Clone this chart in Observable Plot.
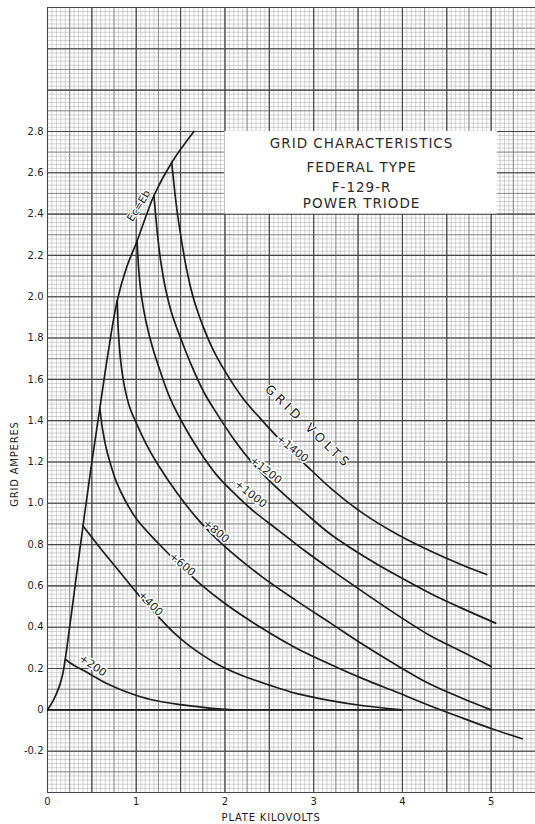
<!DOCTYPE html>
<html>
<head>
<meta charset="utf-8">
<script src="https://cdn.jsdelivr.net/npm/d3@7"></script>
<script src="https://cdn.jsdelivr.net/npm/@observablehq/plot@0.6"></script>
<style>
  html, body { margin: 0; padding: 0; background: #fff; }
  #chart svg { display: block; }
</style>
</head>
<body>
<div id="chart"></div>
<script>
// ---- Data (plate kilovolts, grid amperes) ----
const ecEb  = [[0,0],[0.07,0.05],[0.13,0.11],[0.17,0.17],[0.2,0.245],[0.24,0.37],[0.32,0.63],[0.40,0.89],[0.49,1.17],[0.59,1.46],[0.68,1.72],[0.785,1.98],[0.89,2.14],[1.01,2.27],[1.20,2.49],[1.40,2.65],[1.65,2.80]];
const g1400 = [[1.40,2.65],[1.45,2.45],[1.50,2.30],[1.56,2.15],[1.64,2.00],[1.75,1.86],[1.87,1.74],[2.0,1.64],[2.2,1.51],[2.4,1.41],[2.66,1.29],[2.9,1.19],[3.2,1.07],[3.56,0.95],[3.94,0.85],[4.31,0.77],[4.68,0.70],[4.95,0.655]];
const g1200 = [[1.20,2.49],[1.24,2.30],[1.28,2.16],[1.33,2.04],[1.40,1.92],[1.50,1.80],[1.62,1.67],[1.76,1.54],[1.90,1.44],[2.1,1.31],[2.3,1.20],[2.5,1.11],[2.7,1.03],[2.9,0.955],[3.19,0.85],[3.56,0.745],[3.94,0.65],[4.31,0.565],[4.68,0.49],[5.05,0.42]];
const g1000 = [[1.01,2.27],[1.03,2.12],[1.06,2.00],[1.11,1.88],[1.18,1.76],[1.27,1.64],[1.38,1.51],[1.52,1.39],[1.70,1.26],[1.90,1.14],[2.1,1.05],[2.3,0.97],[2.6,0.87],[2.9,0.77],[3.19,0.68],[3.56,0.57],[3.94,0.46],[4.31,0.36],[4.68,0.28],[5.0,0.21]];
const g800  = [[0.785,1.98],[0.80,1.82],[0.83,1.67],[0.87,1.56],[0.93,1.46],[1.01,1.38],[1.12,1.28],[1.24,1.19],[1.46,1.05],[1.72,0.91],[2.0,0.79],[2.4,0.65],[2.8,0.53],[3.19,0.42],[3.56,0.315],[3.94,0.215],[4.31,0.125],[4.68,0.055],[5.0,0.0]];
const g600  = [[0.59,1.46],[0.62,1.36],[0.66,1.27],[0.71,1.19],[0.78,1.10],[0.88,1.01],[1.01,0.92],[1.24,0.81],[1.46,0.715],[1.72,0.61],[2.0,0.515],[2.4,0.40],[2.8,0.30],[3.19,0.22],[3.56,0.15],[3.94,0.085],[4.31,0.02],[4.68,-0.04],[5.0,-0.09],[5.35,-0.14]];
const g400  = [[0.40,0.89],[0.5,0.835],[0.60,0.78],[0.82,0.665],[1.01,0.565],[1.24,0.455],[1.42,0.375],[1.6,0.31],[1.9,0.225],[2.2,0.165],[2.5,0.12],[2.8,0.08],[3.19,0.045],[3.56,0.02],[4.0,0.0]];
const g200  = [[0.2,0.245],[0.3,0.215],[0.41,0.19],[0.55,0.155],[0.68,0.125],[0.9,0.085],[1.16,0.05],[1.5,0.025],[1.8,0.01],[2.1,0.0]];
const zeroLine = [{x1: 0, x2: 4.0, y: 0}];

const curveNames = ["Ec=Eb", "+1400", "+1200", "+1000", "+800", "+600", "+400", "+200"];
const curveData = [ecEb, g1400, g1200, g1000, g800, g600, g400, g200];

// Curve labels: text, position (kV, A), rotation
const labelText = ["+1400", "+1200", "+1000", "+800", "+600", "+400", "+200"];
const labelX    = [2.76, 2.46, 2.29, 1.90, 1.52, 1.16, 0.51];
const labelY    = [1.265, 1.16, 1.045, 0.865, 0.705, 0.515, 0.215];
const labelRot  = [38, 38, 38, 40, 40, 46, 34];

const ecLabel = [{text: "Ec=Eb", x: 1.03, y: 2.44, rot: -58}];
const gridVolts = [{text: "GRID VOLTS", x: 2.94, y: 1.37, rot: 44}];

const titleLines = ["GRID CHARACTERISTICS", "FEDERAL TYPE", "F-129-R", "POWER TRIODE"];
const titleLineY = [2.74, 2.625, 2.527, 2.448];
const titleX = 3.54;
const titleBox = [{x1: 2.0, x2: 5.07, y1: 2.4, y2: 2.8}];

const xTicks = [0, 1, 2, 3, 4, 5];
const yTicks = [-0.2, 0, 0.2, 0.4, 0.6, 0.8, 1.0, 1.2, 1.4, 1.6, 1.8, 2.0, 2.2, 2.4, 2.6, 2.8];
const xTitle = [{text: "PLATE KILOVOLTS", x: 2.52}];
const yTitle = [{text: "GRID AMPERES", y: 1.19}];

// ---- Build tables ----
const curveRows = curveData.flatMap((pts, i) => pts.map(([x, y]) => ({series: curveNames[i], x, y})));
const labelRows = labelText.map((t, i) => ({text: t, x: labelX[i], y: labelY[i], rot: labelRot[i]}));
const titleRows = titleLines.map((t, i) => ({text: t, x: titleX, y: titleLineY[i]}));

// Graph-paper rulings
const xMin = 0, xMax = 5.5, yMin = -0.4, yMax = 3.4;
const fineX = d3.range(0, 110 + 1).map(i => i * 0.05);
const fineY = d3.range(0, 190 + 1).map(i => yMin + i * 0.02);
const medX = d3.range(0, 22 + 1).map(i => i * 0.25);
const medY = d3.range(0, 38 + 1).map(i => yMin + i * 0.1);
const majX = d3.range(0, 11 + 1).map(i => i * 0.5);
const majY = d3.range(0, 19 + 1).map(i => yMin + i * 0.2);

const font = "DejaVu Sans, Liberation Sans, sans-serif";
const ink = "#1d1d1d";

const chart = Plot.plot({
  width: 535,
  height: 824,
  marginLeft: 47,
  marginRight: 0,
  marginTop: 7,
  marginBottom: 32,
  style: {fontFamily: font, background: "#fff", color: ink},
  x: {domain: [xMin, xMax]},
  y: {domain: [yMin, yMax]},
  marks: [
    Plot.ruleX(fineX, {stroke: "#b3b3b3", strokeWidth: 0.6}),
    Plot.ruleY(fineY, {stroke: "#b3b3b3", strokeWidth: 0.6}),
    Plot.ruleX(medX, {stroke: "#7c7c7c", strokeWidth: 0.8}),
    Plot.ruleY(medY, {stroke: "#7c7c7c", strokeWidth: 0.8}),
    Plot.ruleX(majX, {stroke: "#464646", strokeWidth: 1.1}),
    Plot.ruleY(majY, {stroke: "#464646", strokeWidth: 1.1}),
    Plot.rect(titleBox, {x1: "x1", x2: "x2", y1: "y1", y2: "y2", fill: "#fff"}),
    Plot.ruleY(zeroLine, {x1: "x1", x2: "x2", y: "y", stroke: ink, strokeWidth: 1.6}),
    Plot.line(curveRows, {x: "x", y: "y", z: "series", stroke: ink, strokeWidth: 1.7, curve: "catmull-rom"}),
    Plot.text(labelRows, {x: "x", y: "y", text: "text", rotate: "rot", fontSize: 11, fill: ink,
      stroke: "#fff", strokeWidth: 3, paintOrder: "stroke"}),
    Plot.text(ecLabel, {x: "x", y: "y", text: "text", rotate: "rot", fontSize: 10.5, fill: ink,
      stroke: "#fff", strokeWidth: 2, paintOrder: "stroke"}),
    Plot.text(gridVolts, {x: "x", y: "y", text: "text", rotate: "rot", fontSize: 12.5, fill: ink,
      stroke: "#fff", strokeWidth: 2, paintOrder: "stroke"}),
    Plot.text(titleRows, {x: "x", y: "y", text: "text", fontSize: 13.5, fill: "#2a2a2a"}),
    Plot.text(xTitle, {x: "x", y: () => yMin, text: "text", dy: 25, fontSize: 10, fill: ink}),
    Plot.text(yTitle, {x: () => xMin, y: "y", text: "text", dx: -33, rotate: -90, fontSize: 10, fill: ink}),
    Plot.axisX(xTicks, {tickSize: 0, tickPadding: 5, fontSize: 10, label: null, tickFormat: d => String(d)}),
    Plot.axisY(yTicks, {tickSize: 0, tickPadding: 4, fontSize: 10, label: null,
      tickFormat: d => d === 0 ? "0" : (d < 0 ? "-" : "") + Math.abs(d).toFixed(1)})
  ]
});

// letter spacing for selected texts
chart.querySelectorAll("text").forEach(t => {
  if (titleLines.includes(t.textContent)) t.setAttribute("letter-spacing", "1");
  if (t.textContent === "GRID VOLTS") t.setAttribute("letter-spacing", "4");
  if (t.textContent === "GRID AMPERES" || t.textContent === "PLATE KILOVOLTS") t.setAttribute("letter-spacing", "0.8");
});
document.getElementById("chart").append(chart);
</script>
</body>
</html>
